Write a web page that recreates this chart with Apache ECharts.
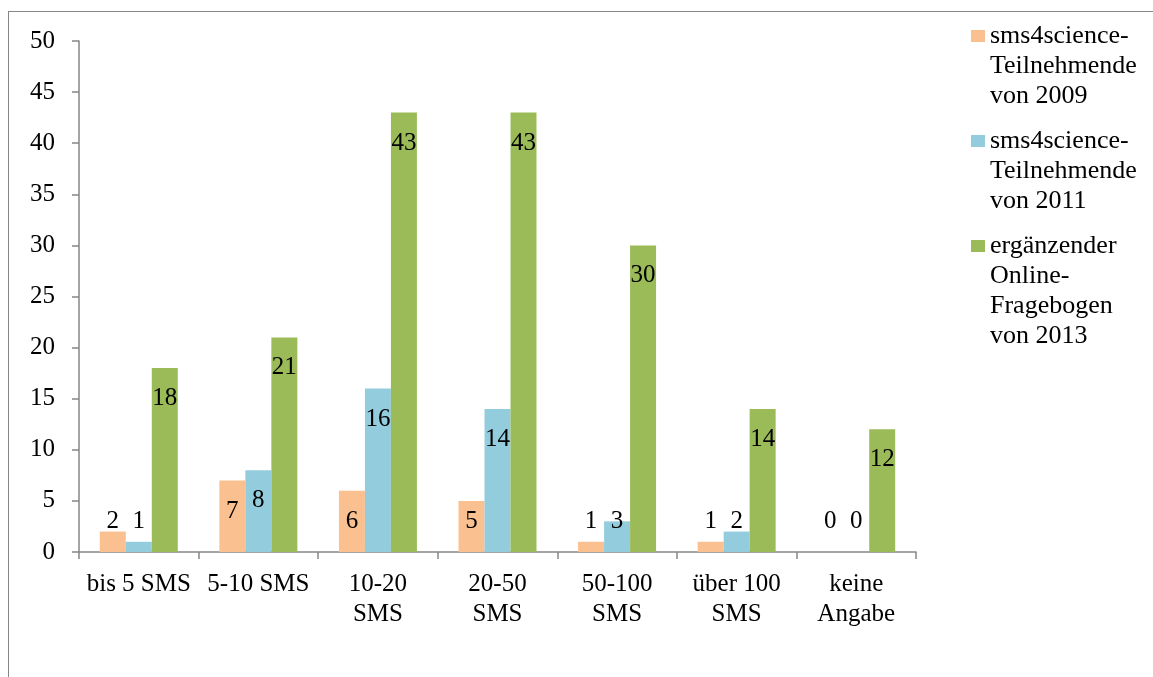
<!DOCTYPE html>
<html>
<head>
<meta charset="utf-8">
<script src="https://cdn.jsdelivr.net/npm/echarts@6/dist/echarts.min.js"></script>
<style>
  html, body { margin: 0; padding: 0; background: #fff; overflow: hidden; }
  #chart { width: 1153px; height: 677px; }
  #frame { position: absolute; left: 8px; top: 11px; width: 2000px; height: 2000px;
           border: 1px solid #868686; pointer-events: none; }
</style>
</head>
<body>
<div id="chart"></div>
<div id="frame"></div>
<script>
const categories = ['bis 5 SMS', '5-10 SMS', '10-20\nSMS', '20-50\nSMS', '50-100\nSMS', 'über 100\nSMS', 'keine\nAngabe'];

const legendLines = [
    ['sms4science-', 'Teilnehmende', 'von 2009'],
    ['sms4science-', 'Teilnehmende', 'von 2011'],
    ['ergänzender', 'Online-', 'Fragebogen', 'von 2013']
];

const values2009 = [2, 7, 6, 5, 1, 1, 0];
const values2011 = [1, 8, 16, 14, 3, 2, 0];
const values2013 = [18, 21, 43, 43, 30, 14, 12];

const COLORS = ['#FAC090', '#93CDDD', '#9BBB59'];
const FONT = 'Liberation Serif, Times New Roman, serif';
const AXIS_GRAY = '#868686';
const FS = 25;

const chart = echarts.init(document.getElementById('chart'));

const names = legendLines.map(l => l.join(' '));

// Excel setzt kleine Werte knapp über die Grundlinie, große in die Säule
function labelFor(v) {
    return v >= 6
        ? { position: 'insideTop', distance: 18 }
        : { position: 'insideBottom', distance: 18 };
}

function makeSeries(idx, vals) {
    return {
        name: names[idx],
        type: 'bar',
        barWidth: 26,
        barGap: '0%',
        itemStyle: { color: COLORS[idx] },
        label: { show: true, color: '#000', fontFamily: FONT, fontSize: FS },
        data: vals.map(v => ({ value: v, label: labelFor(v) }))
    };
}

const rich = {
    t:  { fontFamily: FONT, fontSize: 26, lineHeight: 30, color: '#000' },
    sp: { width: 19, lineHeight: 30 }
};
COLORS.forEach((c, i) => {
    rich['sq' + i] = { width: 14, height: 12, lineHeight: 30, backgroundColor: c };
    rich['g' + i] = { width: 5, lineHeight: 30 };
});

chart.setOption({
    backgroundColor: '#fff',
    animation: false,
    textStyle: { fontFamily: FONT },
    grid: { left: 79, right: 237, top: 41, bottom: 125 },
    legend: {
        orient: 'vertical',
        left: 966,
        top: 23,
        padding: 0,
        itemWidth: 0,
        itemHeight: 0,
        itemGap: 19,
        selectedMode: false,
        data: names,
        formatter: name => {
            const i = names.indexOf(name);
            return legendLines[i]
                .map((l, k) => (k === 0 ? `{sq${i}|}{g${i}|}` : '{sp|}') + `{t|${l}}`)
                .join('\n');
        },
        textStyle: { rich }
    },
    xAxis: {
        type: 'category',
        data: categories,
        axisLine: { lineStyle: { color: AXIS_GRAY, width: 1.5 } },
        axisTick: { show: true, length: 7, lineStyle: { color: AXIS_GRAY, width: 1.5 } },
        axisLabel: { color: '#000', fontFamily: FONT, fontSize: FS, lineHeight: 30, margin: 17, interval: 0 }
    },
    yAxis: {
        type: 'value',
        min: 0,
        max: 50,
        interval: 5,
        splitLine: { show: false },
        axisLine: { show: true, lineStyle: { color: AXIS_GRAY, width: 1.5 } },
        axisTick: { show: true, length: 7, lineStyle: { color: AXIS_GRAY, width: 1.5 } },
        axisLabel: { color: '#000', fontFamily: FONT, fontSize: FS, margin: 24 }
    },
    series: [
        makeSeries(0, values2009),
        makeSeries(1, values2011),
        makeSeries(2, values2013)
    ]
});

window.addEventListener('resize', () => chart.resize());
</script>
</body>
</html>
